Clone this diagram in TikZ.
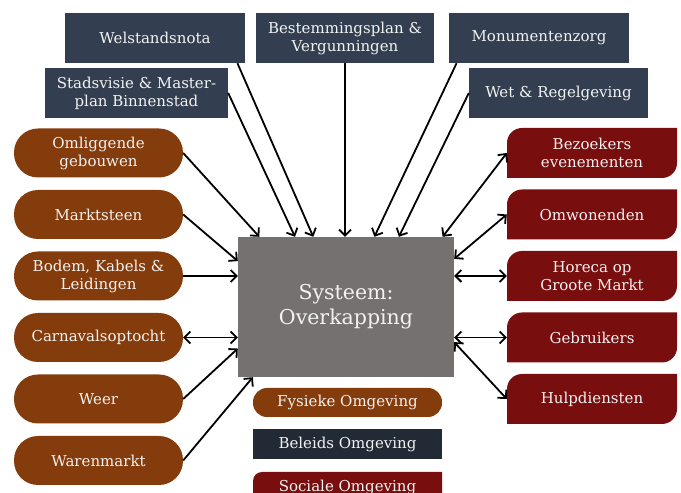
\documentclass[tikz,border=0pt]{standalone}
\usepackage{fontspec}
\setmainfont{DejaVu Serif}
\usepackage{xcolor}
\usetikzlibrary{arrows.meta}

\definecolor{fysbruin}{RGB}{132,60,12}
\definecolor{beleid}{RGB}{51,63,80}
\definecolor{beleiddonker}{RGB}{34,42,53}
\definecolor{sociaalrood}{RGB}{120,14,14}
\definecolor{systeemgrijs}{RGB}{118,113,113}
\definecolor{tekstwit}{RGB}{242,242,242}

\begin{document}
\begin{tikzpicture}[x=1pt,y=1pt,
  tekst/.style={text=tekstwit,align=center,font=\fontsize{15}{18}\selectfont,inner sep=0pt},
  fysbox/.style={tekst,fill=fysbruin,rounded corners=24pt,minimum width=169pt,minimum height=49pt},
  belbox/.style={tekst,fill=beleid,minimum width=180pt,minimum height=50pt},
  socbox/.style={tekst,fill=white,minimum width=170pt,minimum height=50pt,
    path picture={\fill[sociaalrood] (path picture bounding box.south west)
      -- ([yshift=-#1]path picture bounding box.north west)
      arc[start angle=180,end angle=90,radius=#1]
      -- (path picture bounding box.north east)
      -- ([yshift=#1]path picture bounding box.south east)
      arc[start angle=0,end angle=-90,radius=#1] -- cycle;}},
  socbox/.default=15pt,
  pijl/.style={line width=1.8pt,-{Straight Barb[length=6pt,width=12pt]}},
  tweepijl/.style={line width=1.8pt,{Straight Barb[length=6pt,width=12pt]}-{Straight Barb[length=6pt,width=12pt]}}]
             \useasboundingbox (0,0) rectangle (681,493);

             % beleids omgeving
             \node[belbox] (wel) at (155, 455) {Welstandsnota};
             \node[belbox, minimum width=178pt] (bes) at (345, 455) {Bestemmingsplan \&\\Vergunningen};
             \node[belbox] (mon) at (539, 455) {Monumentenzorg};
             \node[belbox, minimum width=183pt] (sta) at (136.5, 400) {Stadsvisie \& Master-\\plan Binnenstad};
             \node[belbox, minimum width=179pt] (wet) at (558.5, 400) {Wet \& Regelgeving};

             % fysieke omgeving
             \node[fysbox] (oml) at (98.5, 340) {Omliggende\\gebouwen};
             \node[fysbox] (mark) at (98.5, 278.5) {Marktsteen};
             \node[fysbox] (bod) at (98.5, 217) {Bodem, Kabels \&\\Leidingen};
             \node[fysbox] (carn) at (98.5, 155.5) {Carnavalsoptocht};
             \node[fysbox] (weer) at (98.5, 94) {Weer};
             \node[fysbox] (waren) at (98.5, 32.5) {Warenmarkt};

             % sociale omgeving
             \node[socbox] (bez) at (592, 340) {Bezoekers\\evenementen};
             \node[socbox] (omw) at (592, 278.5) {Omwonenden};
             \node[socbox] (hor) at (592, 217) {Horeca op\\Groote Markt};
             \node[socbox] (geb) at (592, 155.5) {Gebruikers};
             \node[socbox] (hulp) at (592, 94) {Hulpdiensten};

             \node[tekst, fill=systeemgrijs, minimum width=216pt, minimum height=140pt,
               font=\fontsize{20.5}{25}\selectfont] (sys) at (346, 186) {Systeem:\\Overkapping};

             % legenda
             \node[fysbox, rounded corners=14pt, minimum width=189pt, minimum height=29pt] (fys) at (347.5, 90.5) {Fysieke Omgeving};
             \node[belbox, fill=beleiddonker, minimum width=189pt, minimum height=30pt] (bel) at (347.5, 49) {Beleids Omgeving};
             \node[socbox=9pt, minimum width=189pt, minimum height=30pt] (soc) at (347.5, 6) {Sociale Omgeving};

             \draw[pijl] (oml.east) -- (sys.141.8);
             \draw[pijl] (mark.east) -- (sys.157.4);
             \draw[pijl] (bod.east) -- (bod.east -| sys.west);
             \draw[tweepijl] (carn.east) -- (carn.east -| sys.west);
             \draw[pijl] (weer.east) -- (sys.201.7);
             \draw[pijl] (waren.east) -- (sys.217);

             \draw[pijl] (sta.east) -- (sys.126.1);
             \draw[pijl] (wel.-17.8) -- (sys.115.2);
             \draw[pijl] (bes.south) -- (bes.south |- sys.north);
             \draw[pijl] (mon.197.4) -- (sys.68.2);
             \draw[pijl] (wet.west) -- (sys.53.4);

             \draw[tweepijl] (bez.west) -- (sys.36.7);
             \draw[tweepijl] (omw.west) -- (sys.24.8);
             \draw[tweepijl] (hor.west) -- (hor.west -| sys.east);
             \draw[tweepijl] (geb.west) -- (geb.west -| sys.east);
             \draw[tweepijl] (hulp.west) -- (sys.342);
\end{tikzpicture}
\end{document}
